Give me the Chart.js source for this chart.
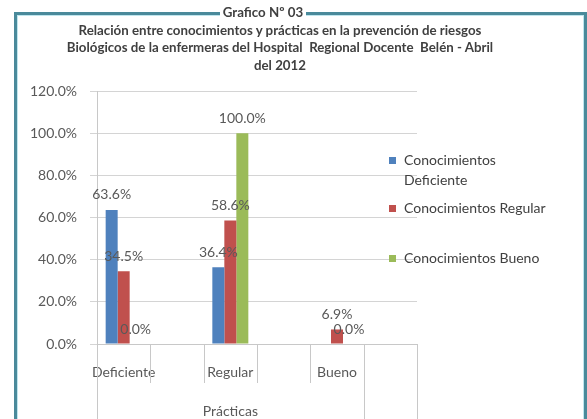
<!DOCTYPE html>
<html>
<head>
<meta charset="utf-8">
<script src="https://cdn.jsdelivr.net/npm/chart.js@4"></script>
<style>
  html, body { margin: 0; padding: 0; background: #fff; }
  #wrap { position: relative; width: 587px; height: 419px; overflow: hidden; font-family: Lato, "Open Sans", sans-serif; }
  #frame { position: absolute; left: 14px; top: 12px; width: 567px; height: 420px;
    border: 3px solid #4a8a9b; border-bottom: none; box-shadow: inset 1px 1px 0 #bfe6ee, inset -1px 0 0 #bfe6ee; }
  #chart { position: absolute; left: 0; top: 0; }
  #title { position: absolute; left: 50px; width: 460px; top: 4px; text-align: center;
    font-weight: bold; font-size: 13.3px; color: #404040; line-height: 17.5px; }
  #title .l1 { display: inline-block; background: #fff; padding: 0 3px; margin-right: 34px; }
  .leg { position: absolute; left: 389px; font-size: 14px; color: #404040; line-height: 20px; padding-left: 15px; }
  .leg i { position: absolute; left: 0; top: 7px; width: 7px; height: 7px; }
</style>
</head>
<body>
<div id="wrap">
  <div id="frame"></div>
  <canvas id="chart" width="587" height="419"></canvas>
  <div id="title">
    <span class="l1">Grafico Nº 03</span><br>
    Relación entre conocimientos y prácticas en la prevención de riesgos<br>
    Biológicos de la enfermeras del Hospital&nbsp; Regional Docente&nbsp; Belén - Abril<br>
    del 2012
  </div>
  <div id="legend"></div>
</div>
<script>
// categories (Excel left empty slots between them)
var categorias = ['Deficiente', '', 'Regular', '', 'Bueno', ''];
var grupo = 'Prácticas';

// series values in %
var conocDeficiente = [63.6, null, 36.4, null, null, null];
var conocRegular = [34.5, null, 58.6, null, 6.9, null];
var conocBueno = [0.0, null, 100.0, null, 0.0, null];

var seriesNames = ['Conocimientos Deficiente', 'Conocimientos Regular', 'Conocimientos Bueno'];
var seriesColors = ['#4f81bd', '#c0504d', '#9bbb59'];

// y ticks
var yMin = 0, yMax = 120, yStep = 20;

var gris = '#595959';
var fuente = 'Lato, "Open Sans", sans-serif';

////Legend (html)/////
var legendTops = [150, 198, 248];
var legendHtml = '';
seriesNames.forEach(function(name, i) {
  var txt = i === 0 ? 'Conocimientos<br>Deficiente' : name;
  legendHtml += '<div class="leg" style="top:' + legendTops[i] + 'px"><i style="background:' + seriesColors[i] + '"></i>' + txt + '</div>';
});
document.getElementById('legend').innerHTML = legendHtml;

////Data labels + separators/////
var extras = {
  id: 'extras',
  afterDatasetsDraw: function(chart) {
    var ctx = chart.ctx;
    ctx.save();
    ctx.font = '14px ' + fuente;
    ctx.fillStyle = gris;
    ctx.textAlign = 'center';
    ctx.textBaseline = 'middle';
    chart.data.datasets.forEach(function(ds, i) {
      var meta = chart.getDatasetMeta(i);
      meta.data.forEach(function(bar, j) {
        var v = ds.data[j];
        if (v === null) return;
        ctx.fillText(v.toFixed(1) + '%', bar.x, bar.y - 15);
      });
    });
    ctx.restore();
  },
  afterDraw: function(chart) {
    var ctx = chart.ctx;
    var x = chart.scales.x;
    var area = chart.chartArea;
    var half = (x.getPixelForValue(1) - x.getPixelForValue(0)) / 2;
    ctx.save();
    ctx.strokeStyle = '#c8c8c8';
    ctx.lineWidth = 1;
    for (var i = 0; i <= categorias.length; i++) {
      var px = Math.round(x.getPixelForValue(0) - half + i * 2 * half) + 0.5;
      var largo = (i === 0 || i >= categorias.length - 1);
      ctx.beginPath();
      ctx.moveTo(px, area.bottom);
      ctx.lineTo(px, largo ? chart.height : 383);
      ctx.stroke();
    }
    // second level label
    var left = x.getPixelForValue(0) - half;
    var right = x.getPixelForValue(categorias.length - 2) + half;
    ctx.font = '14px ' + fuente;
    ctx.fillStyle = gris;
    ctx.textAlign = 'center';
    ctx.textBaseline = 'middle';
    ctx.fillText(grupo, (left + right) / 2, 411);
    ctx.restore();
  }
};

var datos = [conocDeficiente, conocRegular, conocBueno];

var chart = new Chart(document.getElementById('chart'), {
  type: 'bar',
  data: {
    labels: categorias,
    datasets: datos.map(function(d, i) {
      return {
        label: seriesNames[i],
        data: d,
        backgroundColor: seriesColors[i],
        borderWidth: 0,
        categoryPercentage: 0.675,
        barPercentage: 1
      };
    })
  },
  options: {
    responsive: false,
    animation: false,
    layout: { padding: { left: 0, right: 170, top: 91, bottom: 0 } },
    plugins: {
      legend: { display: false },
      title: { display: false },
      tooltip: { enabled: false }
    },
    scales: {
      x: {
        grid: { display: false, drawTicks: false },
        border: { display: true, color: '#c8c8c8' },
        ticks: { color: gris, font: { family: fuente, size: 14 }, padding: 20, maxRotation: 0, autoSkip: false },
        afterFit: function(scale) { scale.height = 75; }
      },
      y: {
        min: yMin,
        max: yMax,
        grid: { color: '#d4d4d4', tickLength: 7 },
        border: { display: true, color: '#c8c8c8' },
        ticks: {
          stepSize: yStep,
          padding: 13,
          color: gris,
          font: { family: fuente, size: 14 },
          callback: function(v) { return v.toFixed(1) + '%'; }
        },
        afterFit: function(scale) { scale.width = 97; }
      }
    }
  },
  plugins: [extras]
});
</script>
</body>
</html>
